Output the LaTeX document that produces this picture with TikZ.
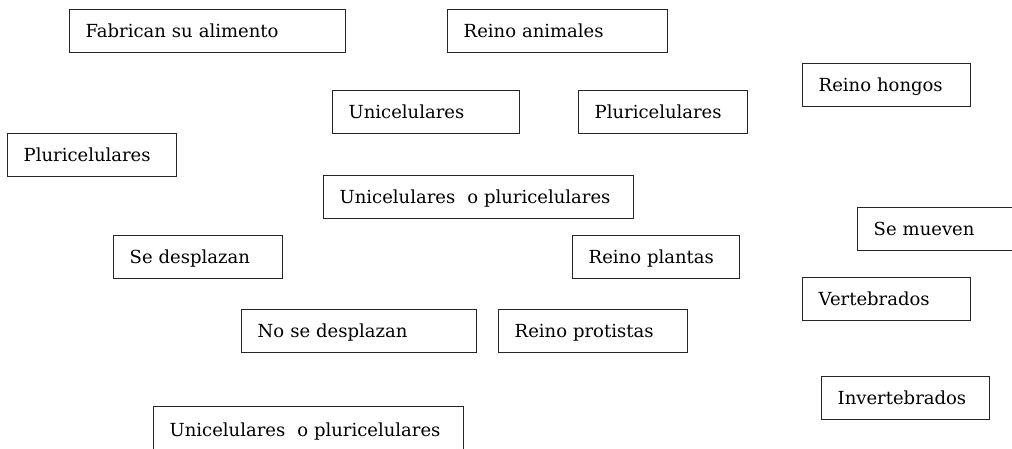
\documentclass[tikz,border=0pt]{standalone}
\usepackage{fontspec}
\setmainfont{DejaVu Serif}
\begin{document}
\begin{tikzpicture}[x=1pt,y=-1pt,
  cbox/.style={draw=black!85, line width=1.4pt, anchor=north west, inner xsep=16pt, inner ysep=0pt,
    align=left, minimum height=43pt, text height=15pt, text depth=2pt, font=\fontsize{18}{20}\selectfont, text=black}]
\clip (0,0) rectangle (1012,449);
\fill[white] (0,0) rectangle (1012,449);
\node[cbox, text width=276-32] (fab) at (69,9) {Fabrican su alimento};
\node[cbox, text width=220-32] (ani) at (447,9) {Reino animales};
\node[cbox, text width=168-32] (hon) at (802,63) {Reino hongos};
\node[cbox, text width=187-32] (uni) at (332,90) {Unicelulares};
\node[cbox, text width=169-32] (plu) at (578,90) {Pluricelulares};
\node[cbox, text width=169-32] (plul) at (7,133) {Pluricelulares};
\node[cbox, text width=310-32] (uop) at (323,175) {Unicelulares\ \ o pluricelulares};
\node[cbox, text width=170-32] (mue) at (857,207) {Se mueven};
\node[cbox, text width=169-32] (desp) at (113,235) {Se desplazan};
\node[cbox, text width=167-32] (plan) at (572,235) {Reino plantas};
\node[cbox, text width=168-32] (vert) at (802,277) {Vertebrados};
\node[cbox, text width=235-32] (nodesp) at (241,309) {No se desplazan};
\node[cbox, text width=189-32] (prot) at (498,309) {Reino protistas};
\node[cbox, text width=168-32] (inv) at (821,376) {Invertebrados};
\node[cbox, text width=310-32, minimum height=46pt] (uopb) at (153,406) {Unicelulares\ \ o pluricelulares};
\end{tikzpicture}
\end{document}
